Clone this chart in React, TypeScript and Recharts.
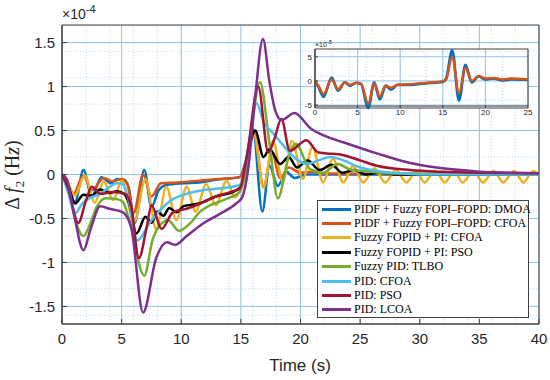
import React from 'react';
import { LineChart, Line, XAxis, YAxis, CartesianGrid, ReferenceArea } from 'recharts';

// time (s), value (x1e-4 Hz)
const dmoa: [number, number][] = [
  [0, 0], [0.4, -0.08], [1.1, -0.31], [1.8, 0.05], [2.5, -0.25], [3.3, -0.03], [4.1, -0.1], [4.6, -0.05],
  [5.2, -0.06], [5.6, -0.15], [6.1, -0.55], [6.9, 0.05], [7.5, -0.37], [8.1, -0.18], [8.75, -0.12],
  [10.2, -0.1], [11.5, -0.09], [12.9, -0.06], [14.9, -0.03], [15.4, 0.15], [16.0, 0.53], [16.8, -0.42],
  [17.4, 0.1], [18.1, -0.13], [18.8, 0.03], [19.5, -0.04], [20.5, 0.0], [40, 0],
];
const cfoaHybrid: [number, number][] = [
  [0, 0], [0.4, -0.07], [0.95, -0.22], [1.8, -0.01], [2.5, -0.18], [3.5, -0.04], [4.3, -0.08], [5.0, -0.05],
  [5.5, -0.12], [6.0, -0.44], [6.8, 0.0], [7.5, -0.25], [8.3, -0.1], [9.6, -0.09], [11.5, -0.07], [13.2, -0.05],
  [14.9, -0.03], [15.4, 0.12], [16.1, 0.47], [16.9, -0.14], [17.6, 0.25], [18.3, -0.04], [19.0, 0.08],
  [20, 0.02], [21, 0.03], [22, 0.01], [40, 0],
];
const fopidCfoa: [number, number][] = [
  [0, 0], [0.4, -0.07], [1.1, -0.24], [1.9, -0.01], [2.75, -0.32], [3.5, -0.08], [4.3, -0.29], [5.0, -0.07],
  [6.05, -0.54], [7.0, -0.05], [7.9, -0.62], [8.75, -0.14], [9.6, -0.52], [10.45, -0.14], [11.2, -0.42],
  [12.1, -0.11], [12.9, -0.35], [13.8, -0.07], [14.5, -0.26], [15.2, -0.05], [16.1, 0.45], [16.9, -0.15],
  [17.7, 0.38], [18.5, -0.08], [19.3, 0.38], [20.2, -0.05], [21.0, 0.31], [21.9, -0.09], [22.7, 0.18],
  [23.6, -0.09], [24.4, 0.1], [25.25, -0.09], [26.2, 0.07], [27.1, -0.09], [28.0, 0.05], [28.9, -0.09],
  [29.7, 0.04], [30.4, -0.09], [31.3, 0.04], [32.1, -0.09], [32.9, 0.04], [33.6, -0.09], [34.5, 0.04],
  [35.3, -0.09], [36.2, 0.04], [37.0, -0.09], [37.9, 0.04], [38.7, -0.09], [39.5, 0.04], [40, -0.01],
];
const fopidPso: [number, number][] = [
  [0, 0], [0.5, -0.12], [1.1, -0.33], [1.8, -0.23], [2.5, -0.24], [3.2, -0.17], [4.0, -0.21], [4.6, -0.19],
  [5.2, -0.22], [5.6, -0.32], [6.25, -0.67], [7.0, -0.48], [7.5, -0.55], [8.0, -0.42], [8.5, -0.47],
  [9.0, -0.38], [9.6, -0.43], [10.2, -0.36], [11.5, -0.33], [12.9, -0.25], [14.6, -0.18], [15.0, -0.14],
  [15.7, 0.31], [16.2, 0.5], [16.9, 0.2], [17.4, 0.29], [18.3, 0.12], [19.0, 0.2], [19.7, 0.08], [20.6, 0.16],
  [21.6, 0.05], [22.6, 0.11], [23.5, 0.02], [24.5, 0.05], [25.5, 0.0], [26.6, 0.02], [28, 0], [40, 0],
];
const pidTlbo: [number, number][] = [
  [0, 0], [0.5, -0.12], [1.0, -0.45], [1.8, -0.7], [2.4, -0.55], [2.9, -0.37], [3.7, -0.27], [4.6, -0.28],
  [5.1, -0.31], [5.6, -0.5], [6.9, -1.15], [7.6, -0.74], [8.2, -0.58], [8.9, -0.52], [9.8, -0.64],
  [10.7, -0.56], [11.6, -0.42], [12.4, -0.35], [13.2, -0.31], [14.1, -0.26], [14.9, -0.2], [15.4, 0.0],
  [16.6, 1.05], [17.4, 0.35], [18.1, -0.27], [19.0, 0.2], [19.6, 0.35], [20.8, 0.06], [21.9, 0.02],
  [23.1, 0.12], [24.3, 0.05], [25.3, 0.04], [26.5, 0.02], [28, 0.01], [40, 0],
];
const pidCfoa: [number, number][] = [
  [0, 0], [0.5, -0.2], [1.1, -0.44], [1.7, -0.33], [2.3, -0.27], [3.2, -0.22], [4.0, -0.14], [4.6, -0.1],
  [5.1, -0.11], [5.6, -0.3], [6.3, -0.75], [7.4, -0.54], [8.2, -0.41], [9.3, -0.28], [10.45, -0.22],
  [11.8, -0.18], [13.2, -0.16], [14.9, -0.12], [15.5, 0.15], [16.3, 0.81], [17.0, 0.57], [17.5, 0.5],
  [18.5, 0.34], [19.6, 0.18], [20.6, 0.12], [21.5, 0.16], [22.5, 0.2], [23.6, 0.16], [25, 0.08],
  [26.4, 0.04], [27.8, 0.02], [30, 0.0], [40, 0],
];
const pidPso: [number, number][] = [
  [0, 0], [0.5, -0.15], [1.37, -0.55], [2.0, -0.3], [2.5, -0.14], [3.2, -0.22], [4.3, -0.2], [5.3, -0.22],
  [5.8, -0.37], [6.45, -0.95], [7.1, -0.6], [7.5, -0.35], [8.35, -0.62], [9.3, -0.43], [10.45, -0.39],
  [11.6, -0.33], [12.7, -0.26], [14.1, -0.2], [14.9, -0.16], [15.5, 0.2], [16.45, 1.0], [17.3, 0.25],
  [17.8, 0.4], [18.4, 0.63], [19.1, 0.27], [20.5, 0.39], [21.5, 0.25], [22.2, 0.24], [23.6, 0.22],
  [25, 0.16], [26.4, 0.1], [29.2, 0.05], [31.9, 0.03], [35, 0.02], [40, 0.015],
];
const pidLcoa: [number, number][] = [
  [0, 0], [0.4, -0.05], [1.0, -0.45], [1.8, -0.86], [2.4, -0.62], [3.2, -0.36], [4.0, -0.39], [5.1, -0.43],
  [5.8, -0.6], [6.8, -1.57], [7.9, -0.95], [8.8, -0.77], [9.5, -0.8], [10.45, -0.7], [11.8, -0.56],
  [13.2, -0.45], [14.6, -0.33], [15.1, -0.26], [15.6, 0.05], [16.2, 0.88], [16.85, 1.54], [17.4, 1.05],
  [17.9, 0.72], [18.4, 0.62], [19.5, 0.7], [20.8, 0.53], [22.2, 0.43], [23.5, 0.37], [26.4, 0.24],
  [29.2, 0.13], [31.9, 0.07], [34.8, 0.035], [40, 0.012],
];

// inset: time (s), value (x1e-5 Hz)
const insetDmoa: [number, number][] = [
  [0, 0], [0.4, -1.2], [1.0, -3.3], [1.95, 0.7], [2.7, -2.0], [3.5, -0.3], [4.1, -1.0], [4.8, -0.4],
  [5.4, -0.6], [6.25, -5.6], [6.95, -0.3], [7.6, -3.8], [8.3, -1.0], [8.9, -1.8], [9.7, -0.8], [11, -0.8],
  [13, -0.5], [15, -0.2], [15.4, 0.5], [16.1, 6.3], [16.9, -4.0], [17.65, 3.3], [18.4, -0.3], [19.2, 1.0],
  [20, 0.3], [21, 0.5], [22, 0.1], [23, 0.3], [25, 0.2],
];
const insetCfoa: [number, number][] = [
  [0, 0], [0.4, -1.0], [1.0, -2.7], [1.95, 0.3], [2.7, -1.7], [3.5, -0.3], [4.1, -0.8], [4.8, -0.4],
  [5.4, -0.6], [6.25, -4.7], [6.95, -0.4], [7.6, -3.2], [8.3, -1.0], [8.9, -1.4], [9.7, -0.8], [11, -0.7],
  [13, -0.4], [15, -0.1], [15.4, 0.4], [16.1, 5.0], [16.9, -2.6], [17.65, 2.7], [18.4, 0.0], [19.2, 1.0],
  [20, 0.5], [21, 0.6], [22, 0.3], [23, 0.5], [25, 0.3],
];

const names = [
  'PIDF + Fuzzy FOPI\u2013FOPD: DMOA',
  'PIDF + Fuzzy FOPI\u2013FOPD: CFOA',
  'Fuzzy FOPID + PI: CFOA',
  'Fuzzy FOPID + PI: PSO',
  'Fuzzy PID: TLBO',
  'PID: CFOA',
  'PID: PSO',
  'PID: LCOA',
];
const colors = ['#0072BD', '#D95319', '#EDB120', '#000000', '#77AC30', '#4DBEEE', '#A2142F', '#7E2F8E'];
const seriesData = [dmoa, cfoaHybrid, fopidCfoa, fopidPso, pidTlbo, pidCfoa, pidPso, pidLcoa];

const xTicks = [0, 5, 10, 15, 20, 25, 30, 35, 40];
const yTicks = [-1.5, -1, -0.5, 0, 0.5, 1, 1.5];
const xMinor = Array.from({ length: 41 }, (_, i) => i);
const yMinor = Array.from({ length: 35 }, (_, i) => Math.round((-1.7 + i * 0.1) * 10) / 10);

const insetXTicks = [0, 5, 10, 15, 20, 25];
const insetYTicks = [-5, 0, 5];
const insetXMinor = Array.from({ length: 26 }, (_, i) => i);
const insetYMinor = [-5, -4, -3, -2, -1, 0, 1, 2, 3, 4, 5, 6];

const toPts = (a: [number, number][]) => a.map(([t, v]) => ({ t, v }));

const axisColor = '#404040';
const majorGrid = '#8fc2ec';
const minorGrid = '#b9daf4';
const sans = '"Liberation Sans", Arial, sans-serif';
const serif = '"Liberation Serif", "Times New Roman", serif';

export default function App() {
  return (
    <div style={{ position: 'absolute', left: 0, top: 0, width: 550, height: 380, background: '#fff' }}>
      <LineChart width={550} height={380} margin={{ top: 25, right: 11, bottom: 0, left: 0 }}>
        <CartesianGrid fill="#fff" fillOpacity={1} horizontalValues={yMinor} verticalValues={xMinor}
          stroke={minorGrid} strokeDasharray="1 2" />
        <CartesianGrid horizontalValues={yTicks} verticalValues={xTicks} stroke={majorGrid} />
        <XAxis type="number" dataKey="t" domain={[0, 40]} ticks={xTicks} height={56}
          tickSize={-5} tickMargin={14} stroke={axisColor}
          tick={{ fontSize: 15, fontFamily: sans, fill: '#262626' }} />
        <YAxis type="number" dataKey="v" domain={[-1.7, 1.7]} ticks={yTicks} width={62}
          tickSize={-5} tickMargin={12} stroke={axisColor}
          tick={{ fontSize: 15, fontFamily: sans, fill: '#262626' }} />
        {seriesData.map((d, i) => (
          <Line key={names[i]} data={toPts(d)} dataKey="v" type="monotone" stroke={colors[i]}
            strokeWidth={2.5} dot={false} isAnimationActive={false} />
        ))}
        <ReferenceArea x1={0} x2={40} y1={-1.7} y2={1.7} fill="none" stroke={axisColor} strokeWidth={1} />
      </LineChart>

      <div style={{ position: 'absolute', left: 62, top: 3, fontFamily: sans, fontSize: 14, color: '#262626' }}>
        ×10<sup style={{ fontSize: 11 }}>-4</sup>
      </div>
      <div style={{
        position: 'absolute', left: 14, top: 175, transform: 'translate(-50%, -50%) rotate(-90deg)',
        whiteSpace: 'nowrap', fontFamily: serif, fontSize: 20, color: '#262626',
      }}>
        Δ&thinsp;<i>f</i><sub style={{ fontSize: 13 }}>2</sub> (H<i>z</i>)
      </div>
      <div style={{
        position: 'absolute', left: 300, top: 366, transform: 'translate(-50%, -50%)',
        fontFamily: sans, fontSize: 17, color: '#262626', whiteSpace: 'nowrap',
      }}>
        Time (s)
      </div>

      <div style={{
        position: 'absolute', left: 317, top: 200, width: 212, height: 118, background: '#fff',
        border: `1px solid ${axisColor}`, boxSizing: 'border-box', paddingTop: 1,
      }}>
        {names.map((n, i) => (
          <div key={n} style={{ display: 'flex', alignItems: 'center', height: 14.4 }}>
            <div style={{ width: 29, height: 3, background: colors[i], marginLeft: 4, marginRight: 3, flexShrink: 0 }} />
            <span style={{ fontFamily: serif, fontSize: 12, color: '#000', whiteSpace: 'nowrap' }}>{n}</span>
          </div>
        ))}
      </div>

      <div style={{ position: 'absolute', left: 300, top: 38 }}>
        <LineChart width={235} height={92} margin={{ top: 11, right: 7, bottom: 0, left: 0 }}>
          <CartesianGrid fill="#fff" fillOpacity={1} horizontalValues={insetYMinor} verticalValues={insetXMinor}
            stroke={minorGrid} strokeDasharray="1 2" />
          <CartesianGrid horizontalValues={insetYTicks} verticalValues={insetXTicks} stroke={majorGrid} />
          <XAxis type="number" dataKey="t" domain={[0, 25]} ticks={insetXTicks} height={22}
            tickSize={-3} tickMargin={4} stroke={axisColor}
            tick={{ fontSize: 8, fontFamily: sans, fill: '#262626' }} />
          <YAxis type="number" dataKey="v" domain={[-5.2, 6.6]} ticks={insetYTicks} width={15}
            tickSize={-3} tickMargin={6} stroke={axisColor}
            tick={{ fontSize: 8, fontFamily: sans, fill: '#262626' }} />
          <Line data={toPts(insetDmoa)} dataKey="v" type="monotone" stroke={colors[0]} strokeWidth={2.8}
            dot={false} isAnimationActive={false} />
          <Line data={toPts(insetCfoa)} dataKey="v" type="monotone" stroke={colors[1]} strokeWidth={2.4}
            dot={false} isAnimationActive={false} />
          <ReferenceArea x1={0} x2={25} y1={-5.2} y2={6.6} fill="none" stroke={axisColor} strokeWidth={1} />
        </LineChart>
        <div style={{ position: 'absolute', left: 15, top: 1, fontFamily: sans, fontSize: 7, color: '#262626' }}>
          ×10<sup style={{ fontSize: 6 }}>-5</sup>
        </div>
      </div>
    </div>
  );
}
